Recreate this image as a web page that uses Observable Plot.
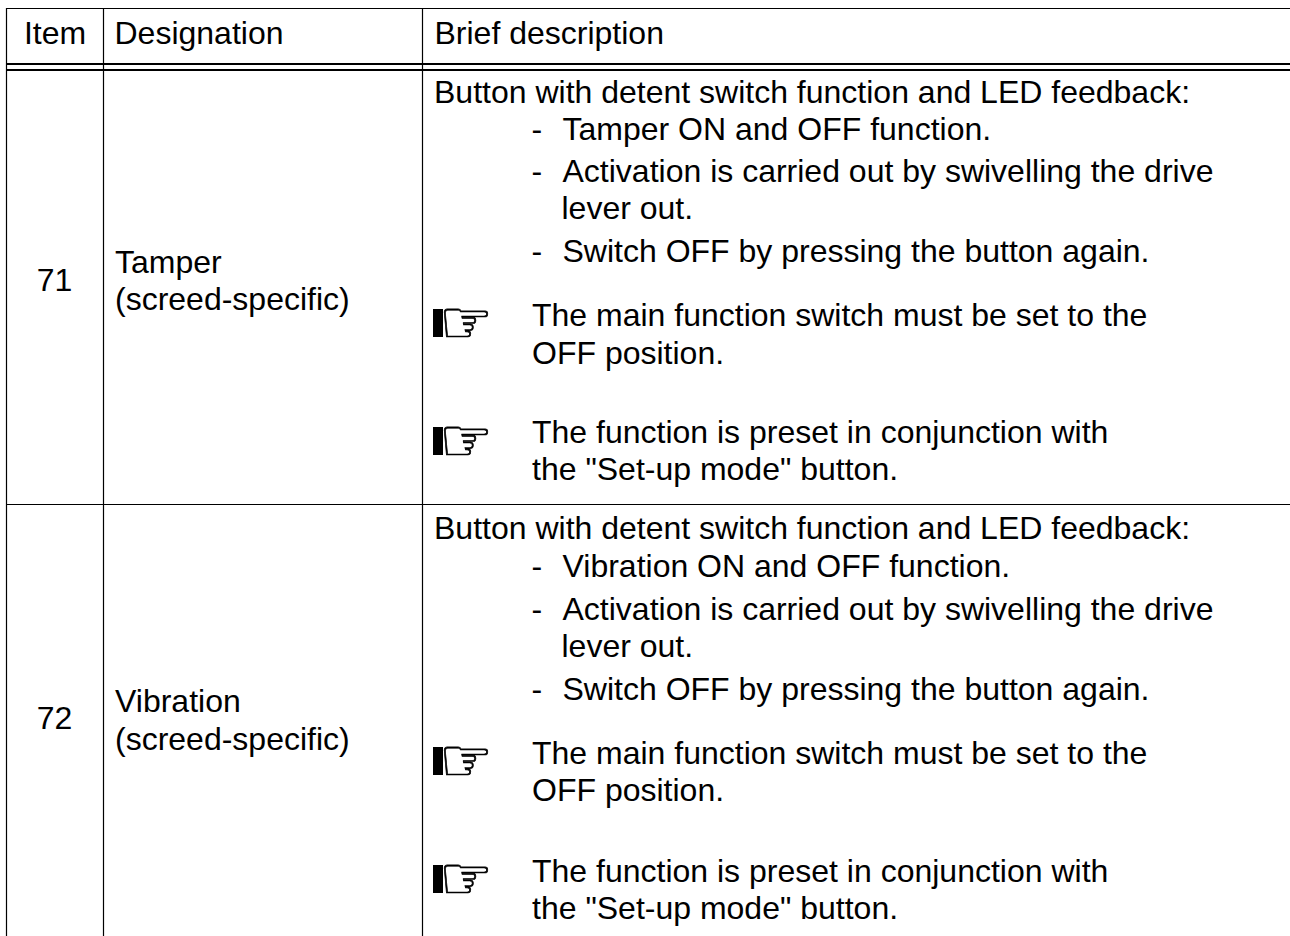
<!DOCTYPE html>
<html><head><meta charset="utf-8">
<script src="https://cdn.jsdelivr.net/npm/d3@7"></script>
<script src="https://cdn.jsdelivr.net/npm/@observablehq/plot@0.6"></script>
<style>html,body{margin:0;padding:0;background:#fff}svg{display:block}</style>
</head><body><div id="chart"></div>
<script>
const headers = ["Designation", "Brief description"];
const headerX = [114, 434];
const headerItem = ["Item"];
const headerY = 43;
const items = ["71", "72"];
const itemY = [290, 728];
const designations = ["Tamper", "(screed-specific)", "Vibration", "(screed-specific)"];
const designationY = [272, 309, 711, 749];
const leadLines = ["Button with detent switch function and LED feedback:", "Button with detent switch function and LED feedback:"];
const leadY = [102, 538];
const bullets = ["Tamper ON and OFF function.", "Activation is carried out by swivelling the drive", "Switch OFF by pressing the button again.",
  "Vibration ON and OFF function.", "Activation is carried out by swivelling the drive", "Switch OFF by pressing the button again."];
const bulletY = [139, 181, 261, 576, 619, 699];
const wrapped = ["lever out.", "lever out."];
const wrappedY = [218, 656];
const notes = ["The main function switch must be set to the", "OFF position.", "The function is preset in conjunction with", "the \"Set-up mode\" button.",
  "The main function switch must be set to the", "OFF position.", "The function is preset in conjunction with", "the \"Set-up mode\" button."];
const noteY = [325, 363, 442, 479, 763, 800, 881, 918];
const handY = [323, 441, 761, 879];
const colRules = [6, 103, 422];
const rowRules = [8, 504];
const doubleRules = [63.5, 69.5];

const font = "Liberation Sans";
const fs = 32;
const label = (data, xv, yv, extra = {}) => Plot.text(data, {
  x: Array.isArray(xv) ? (d, i) => xv[i] : () => xv,
  y: Array.isArray(yv) ? (d, i) => yv[i] : () => yv,
  text: d => d, textAnchor: "start", lineAnchor: "bottom",
  fontFamily: font, fontSize: fs, fill: "#000", ...extra
});

const plot = Plot.plot({
  width: 1290, height: 936, margin: 0,
  x: {domain: [0, 1290], range: [0, 1290], axis: null},
  y: {domain: [0, 936], range: [0, 936], axis: null},
  style: {background: "#fff"},
  marks: [
    Plot.ruleX(colRules, {x: d => d, y1: 8, y2: 936, stroke: "#000", strokeWidth: 1.2}),
    Plot.ruleY(rowRules, {y: d => d, x1: 6, x2: 1290, stroke: "#000", strokeWidth: 1.2}),
    Plot.ruleY(doubleRules, {y: d => d, x1: 6, x2: 1290, stroke: "#000", strokeWidth: 2}),
    label(headerItem, 54.5, headerY, {textAnchor: "middle"}),
    label(headers, headerX, headerY),
    label(items, 54, itemY, {textAnchor: "middle"}),
    label(designations, 114.5, designationY),
    label(leadLines, 433.5, leadY),
    label(bullets.map(() => "-"), 531, bulletY),
    label(bullets, 562, bulletY),
    label(wrapped, 561, wrappedY),
    label(notes, 531.5, noteY),
    Plot.rect(handY, {x1: () => 433, x2: () => 443, y1: d => d - 14, y2: d => d + 14, fill: "#000"}),
    Plot.text(handY, {x: () => 465.5, y: d => d, text: () => "\u261E", textAnchor: "middle", lineAnchor: "bottom",
      fontFamily: "DejaVu Sans", fontSize: 60, fill: "#000", stroke: "#000", strokeWidth: 0.7, dy: 19})
  ]
});
document.getElementById("chart").append(plot);
</script></body></html>
